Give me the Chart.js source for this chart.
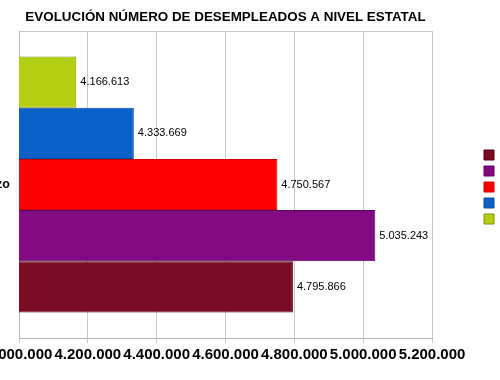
<!DOCTYPE html>
<html><head><meta charset="utf-8">
<script src="https://cdn.jsdelivr.net/npm/chart.js@4/dist/chart.umd.min.js"></script>
<style>
html,body{margin:0;padding:0;overflow:hidden;background:#fff;width:500px;height:380px;}
#wrap{position:absolute;left:-30px;top:0;width:561px;height:380px;}
</style></head><body>
<div id="wrap"><canvas id="c" width="561" height="380"></canvas></div>
<script>
const chartTitle = 'EVOLUCIÓN NÚMERO DE DESEMPLEADOS A NIVEL ESTATAL';
const categories = ['Marzo'];
const seriesNames = ['2010', '2011', '2012', '2013', '2014'];
const values2010 = [4166613];
const values2011 = [4333669];
const values2012 = [4750567];
const values2013 = [5035243];
const values2014 = [4795866];
const seriesValues = [values2010, values2011, values2012, values2013, values2014];
const xTickValues = [4000000, 4200000, 4400000, 4600000, 4800000, 5000000, 5200000];

const fillColors = ['#b3cf12', '#0a62c9', '#ff0000', '#820a82', '#7b0c25'];
const edgeColors = ['#7d8f06', '#0a4a9a', '#cc0000', '#5a005a', '#4d0010'];
const FONT = '"Liberation Sans", Arial, sans-serif';

function fmt(v) {
  return String(Math.round(v)).replace(/\B(?=(\d{3})+(?!\d))/g, '.');
}

const valueLabels = {
  id: 'valueLabels',
  afterDatasetsDraw(chart) {
    const ctx = chart.ctx;
    ctx.save();
    ctx.font = '11px ' + FONT;
    ctx.fillStyle = '#000';
    ctx.textAlign = 'left';
    ctx.textBaseline = 'middle';
    chart.data.datasets.forEach((ds, i) => {
      chart.getDatasetMeta(i).data.forEach((bar, j) => {
        ctx.fillText(fmt(ds.data[j]), bar.x + 4, bar.y);
      });
    });
    ctx.restore();
  }
};

const topTitle = {
  id: 'topTitle',
  afterDraw(chart) {
    const ctx = chart.ctx, a = chart.chartArea;
    ctx.save();
    ctx.font = 'bold 13.4px ' + FONT;
    ctx.fillStyle = '#000';
    ctx.textAlign = 'center';
    ctx.textBaseline = 'alphabetic';
    ctx.fillText(chartTitle, (a.left + a.right) / 2, 21);
    ctx.restore();
  }
};

new Chart(document.getElementById('c'), {
  type: 'bar',
  data: {
    labels: categories,
    datasets: seriesNames.map((name, i) => ({
      label: name,
      data: seriesValues[i],
      backgroundColor: fillColors[i],
      borderColor: edgeColors[i],
      borderWidth: 1,
      categoryPercentage: 0.834,
      barPercentage: 1
    }))
  },
  options: {
    indexAxis: 'y',
    responsive: false,
    animation: false,
    layout: { padding: { top: 31, left: 0, right: 0, bottom: 0 } },
    scales: {
      x: {
        type: 'linear',
        min: xTickValues[0],
        max: xTickValues[xTickValues.length - 1],
        afterBuildTicks: s => { s.ticks = xTickValues.map(v => ({ value: v })); },
        ticks: {
          autoSkip: false, maxRotation: 0, minRotation: 0, padding: 3,
          color: '#000', font: { family: FONT, size: 15, weight: 'bold' },
          callback: v => fmt(v)
        },
        grid: { color: '#c8c8c8', tickLength: 5, drawTicks: true },
        border: { color: '#b4b4b4' },
        afterFit: s => { s.height = 42; }
      },
      y: {
        ticks: { padding: 9, color: '#000', font: { family: FONT, size: 12.5, weight: 'bold' } },
        grid: { color: '#c8c8c8', drawTicks: false },
        border: { color: '#b4b4b4' },
        afterFit: s => { s.width = 49; }
      },
      y2: {
        type: 'category',
        position: 'right',
        display: true,
        grid: { display: false },
        border: { display: false },
        ticks: { display: false },
        afterFit: s => { s.width = 47; }
      }
    },
    plugins: {
      legend: {
        position: 'right',
        fullSize: false,
        align: 'center',
        reverse: true,
        maxWidth: 52,
        title: { display: true, text: '', padding: { top: 4, bottom: 0 }, font: { size: 1, lineHeight: 1 } },
        labels: { boxWidth: 10, boxHeight: 10, padding: 5, color: '#000', font: { family: FONT, size: 11 } }
      },
      tooltip: { enabled: false },
      title: { display: false }
    }
  },
  plugins: [valueLabels, topTitle]
});
</script>
</body></html>
